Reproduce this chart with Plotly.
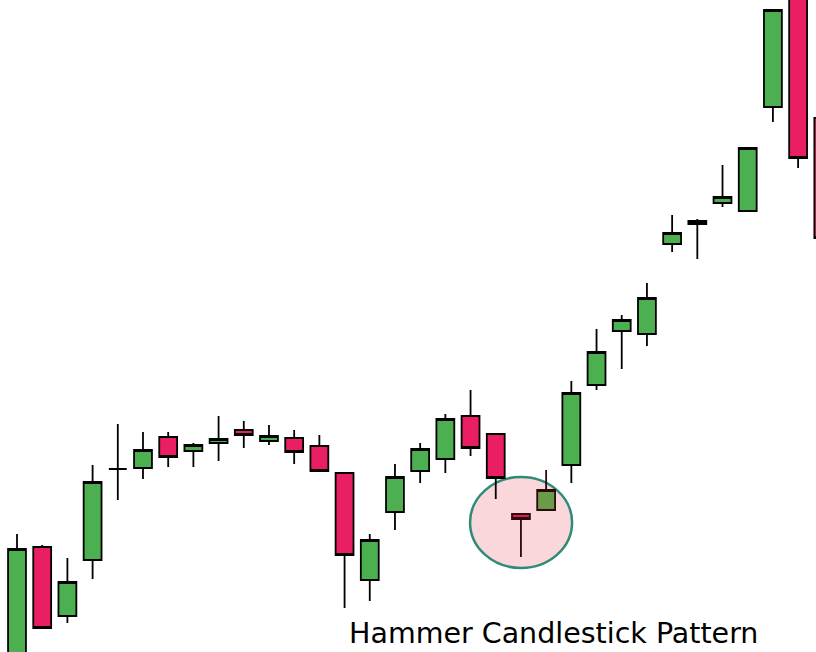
import plotly.graph_objects as go

# Candle index (session number)
sessions = list(range(33))

opens = [-8, 105, 36, 92, 183, 184, 215, 201, 209, 222, 211, 214, 206, 179, 72, 140,
         181, 193, 236, 218, 138, 142, 187, 267, 321, 318, 408, 428, 449, 441, 545, 690, 534]
highs = [118, 107, 94, 187, 228, 220, 220, 209, 236, 231, 227, 222, 217, 180, 118, 188,
         209, 238, 262, 219, 139, 182, 271, 323, 337, 369, 437, 433, 487, 505, 643, 700, 534]
lows = [-15, 24, 29, 73, 152, 173, 185, 185, 191, 204, 207, 188, 180, 44, 51, 122,
        169, 179, 196, 153, 95, 142, 169, 262, 283, 306, 400, 393, 445, 440, 530, 484, 414]
closes = [103, 24, 70, 170, 183, 202, 195, 207, 213, 217, 216, 200, 181, 97, 112, 175,
          203, 233, 204, 174, 133, 162, 259, 300, 332, 354, 419, 431, 455, 504, 642, 494, 414]

# Candles inside the highlight circle (hammer + confirmation)
highlighted = [20, 21]
title_text = "Hammer Candlestick Pattern"

GREEN = "#4CAF50"
RED = "#E91E63"
GREEN_TINT = "#6B9A48"
RED_TINT = "#DC1A55"


def subset(idx):
    return dict(
        x=[sessions[i] for i in idx],
        open=[opens[i] for i in idx],
        high=[highs[i] for i in idx],
        low=[lows[i] for i in idx],
        close=[closes[i] for i in idx],
    )


main_idx = [i for i in sessions if i not in highlighted]

fig = go.Figure()
fig.add_trace(go.Candlestick(
    **subset(main_idx),
    increasing=dict(fillcolor=GREEN, line=dict(color="black", width=1.8)),
    decreasing=dict(fillcolor=RED, line=dict(color="black", width=1.8)),
    whiskerwidth=0, showlegend=False, hoverinfo="skip",
))
fig.add_trace(go.Candlestick(
    **subset(highlighted),
    increasing=dict(fillcolor=GREEN_TINT, line=dict(color="#2a0a0a", width=1.8)),
    decreasing=dict(fillcolor=RED_TINT, line=dict(color="#2a0a0a", width=1.8)),
    whiskerwidth=0, showlegend=False, hoverinfo="skip",
))

# Highlight ellipse around the hammer
fig.add_shape(type="circle", xref="x", yref="y",
              x0=17.98, x1=22.03, y0=84, y1=175,
              fillcolor="#FAD7DA", line=dict(color="#2E8B78", width=2.5),
              layer="below")

fig.add_annotation(text=title_text, xref="paper", yref="paper",
                   x=347 / 816, y=0, xanchor="left", yanchor="bottom",
                   showarrow=False,
                   font=dict(family="DejaVu Sans", size=28.5, color="black"))

fig.update_layout(
    width=816, height=652,
    margin=dict(l=0, r=0, t=0, b=0),
    paper_bgcolor="white", plot_bgcolor="white",
    boxgap=0.29, boxgroupgap=0,
    hovermode=False, dragmode=False,
    xaxis=dict(range=[-0.675, 31.71], visible=False, rangeslider=dict(visible=False),
               showgrid=False, zeroline=False, fixedrange=True),
    yaxis=dict(range=[0, 652], visible=False, showgrid=False, zeroline=False,
               fixedrange=True),
)

fig.write_html(
    "out.html",
    config={"displayModeBar": False, "staticPlot": True},
    post_script="document.body.style.margin='0';document.body.style.overflow='hidden';",
)
